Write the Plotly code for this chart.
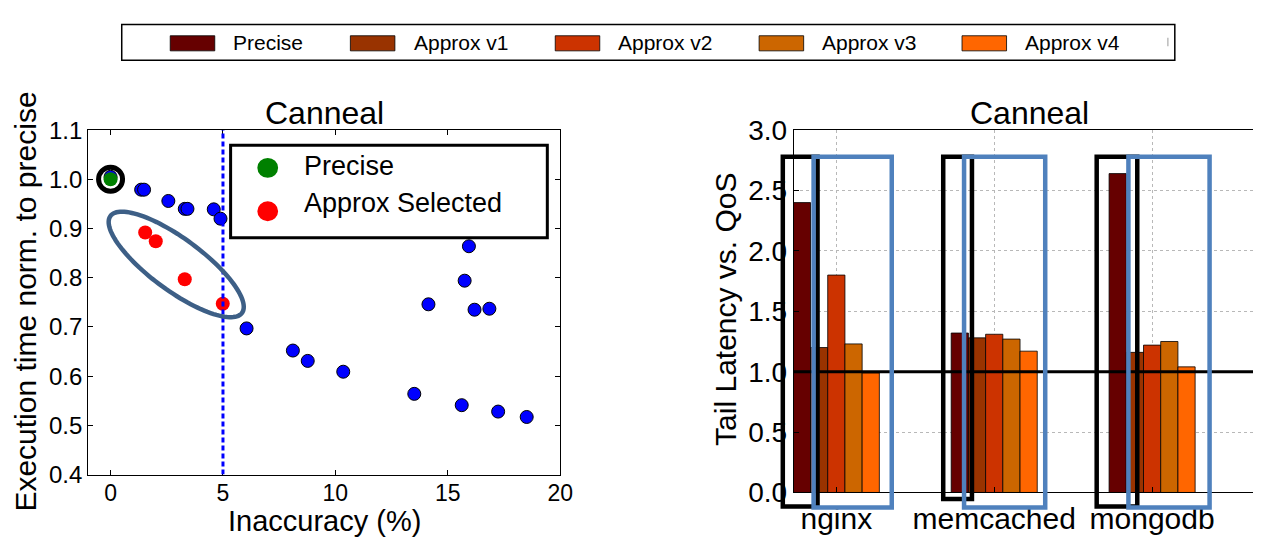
import numpy as np
import plotly.graph_objects as go

W, H = 1266, 550
FONT = "Liberation Sans"

# ---------------- data: left panel (scatter) ----------------
blue_x = [0.0, 1.36, 1.49, 2.57, 3.30, 3.42, 4.59, 4.89, 6.05, 8.11, 8.77,
          10.35, 13.51, 14.14, 15.62, 15.75, 15.94, 16.19, 16.85, 17.24, 18.51]
blue_y = [1.005, 0.979, 0.979, 0.956, 0.940, 0.940, 0.939, 0.920, 0.697, 0.652, 0.631,
          0.609, 0.564, 0.746, 0.541, 0.794, 0.864, 0.735, 0.737, 0.528, 0.517]
sel_x = [1.54, 2.01, 3.30, 4.99]
sel_y = [0.892, 0.874, 0.797, 0.747]
precise_x = [0.0]
precise_y = [1.0]
inacc_limit = 5
left_xticks = [0, 5, 10, 15, 20]

# ---------------- data: right panel (bars) ----------------
apps = ["nginx", "memcached", "mongodb"]
series = ["Precise", "Approx v1", "Approx v2", "Approx v3", "Approx v4"]
val_precise = [2.40, 1.32, 2.64]
val_v1 = [1.20, 1.28, 1.16]
val_v2 = [1.80, 1.31, 1.22]
val_v3 = [1.23, 1.27, 1.25]
val_v4 = [0.99, 1.17, 1.04]
bar_values = [val_precise, val_v1, val_v2, val_v3, val_v4]
bar_colors = ["#660000", "#993300", "#cc3300", "#cc6600", "#ff6600"]
qos = 1.0

# ---------------- geometry ----------------
L_AX = (89, 566, 122, 487)     # left, right, top, bottom (px)
R_AX = (802, 1266, 122, 506)
LX_RANGE = [-1, 20]
LY_RANGE = [0.4, 1.1]
RX_RANGE = [-0.2696, 2.639]
RY_RANGE = [0, 3]


def px(x):
    return x / W


def py(y):
    return 1 - y / H


def x2p(v):
    l, r, t, b = R_AX
    return px(l + (v - RX_RANGE[0]) / (RX_RANGE[1] - RX_RANGE[0]) * (r - l))


def y2p(v):
    l, r, t, b = R_AX
    return py(b - (v - RY_RANGE[0]) / (RY_RANGE[1] - RY_RANGE[0]) * (b - t))


fig = go.Figure()

# scatter
fig.add_trace(go.Scatter(x=blue_x, y=blue_y, mode="markers", xaxis="x", yaxis="y",
                         marker=dict(color="#0000ff", size=13, line=dict(color="black", width=1)),
                         showlegend=False))
fig.add_trace(go.Scatter(x=sel_x, y=sel_y, mode="markers", xaxis="x", yaxis="y",
                         marker=dict(color="#ff0000", size=14, line=dict(width=0)),
                         showlegend=False))
fig.add_trace(go.Scatter(x=precise_x, y=precise_y, mode="markers", xaxis="x", yaxis="y",
                         marker=dict(color="#008000", size=14, line=dict(width=0)),
                         showlegend=False))

# bars
for name, vals, col in zip(series, bar_values, bar_colors):
    fig.add_trace(go.Bar(x=list(range(len(apps))), y=vals, name=name, xaxis="x2", yaxis="y2",
                         marker=dict(color=col, line=dict(color="black", width=0.8)),
                         showlegend=False))

shapes = []
annotations = []

# left panel: dashed limit line
shapes.append(dict(type="line", xref="x", yref="y", x0=inacc_limit, x1=inacc_limit,
                   y0=LY_RANGE[0], y1=LY_RANGE[1],
                   line=dict(color="#0000ff", width=3, dash="5px,3px")))

# ellipse around selected points (pixel geometry -> data units)
sx = (L_AX[1] - L_AX[0]) / (LX_RANGE[1] - LX_RANGE[0])
sy = (L_AX[3] - L_AX[2]) / (LY_RANGE[1] - LY_RANGE[0])
ecx, ecy = 2.92, 0.827
a, b, ang = 84.0, 27.0, np.deg2rad(38)
t = np.linspace(0, 2 * np.pi, 120)
ex = a * np.cos(t) * np.cos(ang) - b * np.sin(t) * np.sin(ang)
ey = a * np.cos(t) * np.sin(ang) + b * np.sin(t) * np.cos(ang)
pts = [(ecx + dx / sx, ecy - dy / sy) for dx, dy in zip(ex, ey)]
path = "M " + " L ".join(f"{x:.4f},{y:.4f}" for x, y in pts) + " Z"
shapes.append(dict(type="path", xref="x", yref="y", path=path,
                   line=dict(color="#3d5f86", width=4.5)))

# black ring around precise point
shapes.append(dict(type="circle", xref="x", yref="y", xsizemode="pixel", ysizemode="pixel",
                   xanchor=precise_x[0], yanchor=precise_y[0], x0=-12, x1=12, y0=-12, y1=12,
                   line=dict(color="black", width=5)))

# left legend box
shapes.append(dict(type="rect", xref="paper", yref="paper", x0=px(233), x1=px(553),
                   y0=py(236), y1=py(138), fillcolor="white", line=dict(color="black", width=3)))
for cy, col in [(162, "#008000"), (208, "#ff0000")]:
    shapes.append(dict(type="circle", xref="paper", yref="paper", x0=px(260), x1=px(281),
                       y0=py(cy + 10.5), y1=py(cy - 10.5), fillcolor=col, line=dict(width=0)))
for cy, txt in [(160, "Precise"), (199, "Approx Selected")]:
    annotations.append(dict(xref="paper", yref="paper", x=px(305), y=py(cy), text=txt,
                            showarrow=False, xanchor="left", yanchor="middle",
                            font=dict(size=27, color="black", family=FONT)))

# right panel: QoS line
shapes.append(dict(type="line", xref="x2", yref="y2", x0=RX_RANGE[0], x1=RX_RANGE[1],
                   y0=qos, y1=qos, line=dict(color="black", width=3)))

# highlight boxes (category offsets)
black_boxes = [(-0.339, -0.119, 2.78, -0.117), (-0.323, -0.141, 2.78, -0.055), (-0.351, -0.094, 2.78, -0.117)]
blue_boxes = [(-0.144, 0.351, 2.78, -0.125), (-0.191, 0.323, 2.78, -0.125), (-0.150, 0.364, 2.78, -0.125)]
for i in range(len(apps)):
    x0, x1, y1, y0 = black_boxes[i]
    shapes.append(dict(type="rect", xref="paper", yref="paper", x0=x2p(i + x0), x1=x2p(i + x1),
                       y0=y2p(y0), y1=y2p(y1), line=dict(color="black", width=4.5)))
for i in range(len(apps)):
    x0, x1, y1, y0 = blue_boxes[i]
    shapes.append(dict(type="rect", xref="paper", yref="paper", x0=x2p(i + x0), x1=x2p(i + x1),
                       y0=y2p(y0), y1=y2p(y1), line=dict(color="#4f81bd", width=4.5)))

# top legend
shapes.append(dict(type="rect", xref="paper", yref="paper", x0=px(123), x1=px(1187),
                   y0=py(48), y1=py(10), line=dict(color="black", width=1.5)))
sq_left = [172, 354, 561, 767, 972]
tx_left = [235, 418, 624, 831, 1036]
for i, (name, col) in enumerate(zip(series, bar_colors)):
    shapes.append(dict(type="rect", xref="paper", yref="paper", x0=px(sq_left[i]),
                       x1=px(sq_left[i] + 45), y0=py(38), y1=py(22), fillcolor=col,
                       line=dict(color="black", width=0.8)))
    annotations.append(dict(xref="paper", yref="paper", x=px(tx_left[i] - 2), y=py(29.5), text=name,
                            showarrow=False, xanchor="left", yanchor="middle",
                            font=dict(size=21, color="black", family=FONT)))
# clipped remnant of a further legend entry at the box edge
shapes.append(dict(type="line", xref="paper", yref="paper", x0=px(1180), x1=px(1180),
                   y0=py(33), y1=py(24), line=dict(color="#aaaaaa", width=1.2)))

# titles & axis labels
for cx in [(L_AX[0] + L_AX[1]) / 2, 1040]:
    annotations.append(dict(xref="paper", yref="paper", x=px(cx), y=py(104), text="Canneal",
                            showarrow=False, xanchor="center", yanchor="middle",
                            font=dict(size=32, color="black", family=FONT)))
annotations.append(dict(xref="paper", yref="paper", x=px(26), y=py(304),
                        text="Execution time norm. to precise", textangle=-90, showarrow=False,
                        xanchor="center", yanchor="middle",
                        font=dict(size=30, color="black", family=FONT)))
annotations.append(dict(xref="paper", yref="paper", x=px(328), y=py(536),
                        text="Inaccuracy (%)", showarrow=False, xanchor="center", yanchor="middle",
                        font=dict(size=29, color="black", family=FONT)))
annotations.append(dict(xref="paper", yref="paper", x=px(733), y=py(312),
                        text="Tail Latency vs. QoS", textangle=-90, showarrow=False,
                        xanchor="center", yanchor="middle",
                        font=dict(size=30, color="black", family=FONT)))

axis_common = dict(showline=True, linecolor="black", linewidth=1, zeroline=False,
                   ticks="inside", ticklen=5, tickcolor="black")

fig.update_layout(
    width=W, height=H, margin=dict(l=0, r=0, t=0, b=0),
    paper_bgcolor="white", plot_bgcolor="white",
    font=dict(family=FONT, color="black"),
    barmode="group", bargap=0.455, bargroupgap=0,
    xaxis=dict(domain=[px(L_AX[0]), px(L_AX[1])], range=LX_RANGE, tickvals=left_xticks,
               anchor="y", mirror="ticks", showgrid=False, tickfont=dict(size=23),
               ticklabelstandoff=-2, **axis_common),
    yaxis=dict(domain=[py(L_AX[3]), py(L_AX[2])], range=LY_RANGE, dtick=0.1, tickformat=".1f",
               anchor="x", mirror="ticks", showgrid=False, tickfont=dict(size=24), **axis_common),
    xaxis2=dict(domain=[px(R_AX[0]), 1.0], range=RX_RANGE, tickvals=list(range(len(apps))),
                ticktext=apps, anchor="y2", mirror=True, showgrid=True, griddash="dot",
                gridcolor="#b8b8b8", gridwidth=1, tickfont=dict(size=30), **axis_common),
    yaxis2=dict(domain=[py(R_AX[3]), py(R_AX[2])], range=RY_RANGE, dtick=0.5, tickformat=".1f",
                anchor="x2", mirror=False, showgrid=True, griddash="dot", gridcolor="#b8b8b8",
                gridwidth=1, tickfont=dict(size=28), **axis_common),
    shapes=shapes, annotations=annotations,
)

fig.write_html("out.html")
